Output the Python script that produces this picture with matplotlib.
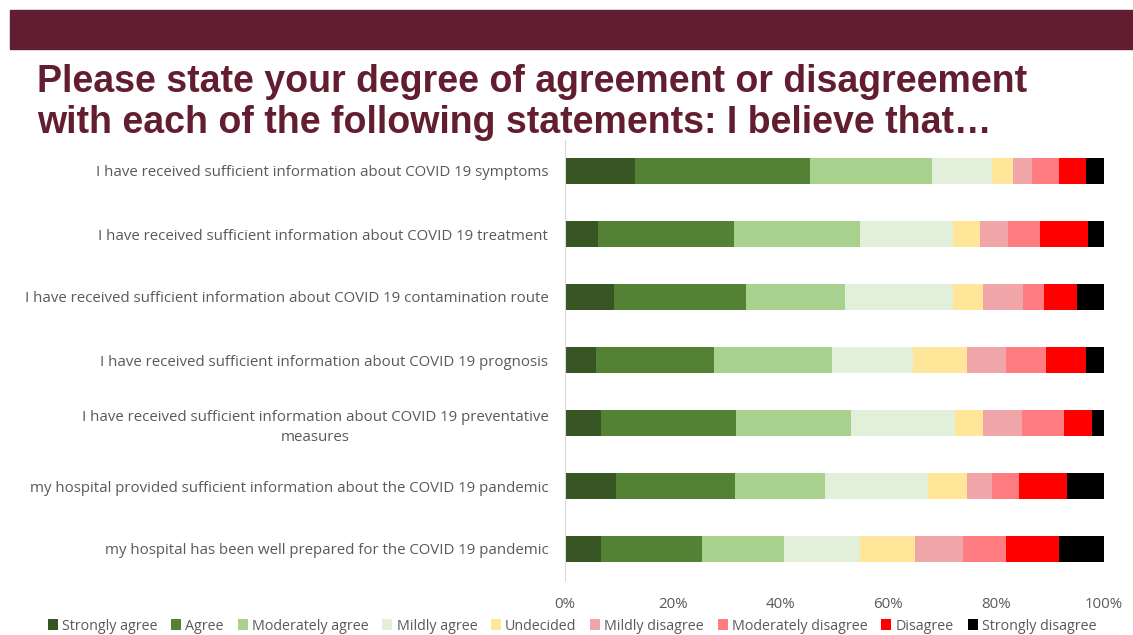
import matplotlib
matplotlib.use("Agg")
import matplotlib.pyplot as plt
from matplotlib.patches import Rectangle
import numpy as np

# statements, top to bottom
statements = [
    "I have received sufficient information about COVID 19 symptoms",
    "I have received sufficient information about COVID 19 treatment",
    "I have received sufficient information about COVID 19 contamination route",
    "I have received sufficient information about COVID 19 prognosis",
    "I have received sufficient information about COVID 19 preventative\nmeasures",
    "my hospital provided sufficient information about the COVID 19 pandemic",
    "my hospital has been well prepared for the COVID 19 pandemic",
]

levels = ["Strongly agree", "Agree", "Moderately agree", "Mildly agree", "Undecided",
          "Mildly disagree", "Moderately disagree", "Disagree", "Strongly disagree"]

# percent per level, one value per statement
strongly_agree = [13.0, 6.2, 9.0, 5.7, 6.7, 9.5, 6.7]
agree = [32.5, 25.2, 24.5, 21.9, 25.0, 22.0, 18.8]
moderately_agree = [22.5, 23.3, 18.4, 21.9, 21.4, 16.7, 15.1]
mildly_agree = [11.2, 17.2, 20.0, 15.0, 19.3, 19.2, 14.1]
undecided = [4.0, 5.1, 5.7, 10.0, 5.1, 7.1, 10.3]
mildly_disagree = [3.4, 5.1, 7.3, 7.4, 7.3, 4.7, 8.9]
moderately_disagree = [5.0, 6.0, 3.9, 7.4, 7.8, 5.1, 7.9]
disagree = [5.0, 9.0, 6.2, 7.3, 5.2, 8.9, 9.8]
strongly_disagree = [3.4, 2.9, 5.0, 3.4, 2.2, 6.8, 8.4]

series = [strongly_agree, agree, moderately_agree, mildly_agree, undecided,
          mildly_disagree, moderately_disagree, disagree, strongly_disagree]
colors = ["#375623", "#548235", "#A9D18E", "#E2EFDA", "#FFE699",
          "#F0A6A8", "#FF7C80", "#FF0000", "#000000"]

maroon = "#621D30"
grey = "#595959"
plt.rcParams["font.family"] = ["Open Sans", "DejaVu Sans"]

fig = plt.figure(figsize=(11.33, 6.35), dpi=100)

# header band
fig.patches.append(Rectangle((10 / 1133, 1 - 49 / 635), 1 - 10 / 1133, 39 / 635,
                             transform=fig.transFigure, color=maroon, zorder=0))

title_lines = ["Please state your degree of agreement or disagreement",
               "with each of the following statements: I believe that\u2026"]
for line, base in zip(title_lines, [92, 133]):
    fig.text(37 / 1133, 1 - base / 635, line,
             family=["Liberation Sans Narrow", "Liberation Sans"], fontweight="bold",
             fontsize=27, color=maroon, va="baseline")

ax = fig.add_axes([565 / 1133, 1 - 580.5 / 635, 539 / 1133, 441 / 635])

y = np.arange(len(statements))
total = np.array([sum(s[i] for s in series) for i in range(len(statements))])
left = np.zeros(len(statements))
for vals, col, lab in zip(series, colors, levels):
    w = np.array(vals) / total * 100
    ax.barh(y, w, left=left, height=0.41, color=col, label=lab)
    left += w

ax.set_ylim(len(statements) - 0.5, -0.5)
ax.set_xlim(0, 100)
ax.set_xticks(np.arange(0, 101, 20))
ax.set_xticklabels([f"{v}%" for v in range(0, 101, 20)])
ax.set_yticks(y)
ax.set_yticklabels(statements, multialignment="center", linespacing=1.45)
ax.tick_params(axis="both", length=0, colors=grey, labelsize=10.8)
ax.tick_params(axis="y", pad=12)
ax.tick_params(axis="x", pad=12)
for s in ["top", "right", "bottom"]:
    ax.spines[s].set_visible(False)
ax.spines["left"].set_color("#D9D9D9")

fig.legend(loc="center", bbox_to_anchor=(572 / 1133, 1 - 626 / 635), ncol=9,
           frameon=False, fontsize=10.3, handlelength=0.7, handleheight=0.7,
           handletextpad=0.3, columnspacing=0.95, labelcolor=grey)

fig.savefig("out.png", dpi=100)
